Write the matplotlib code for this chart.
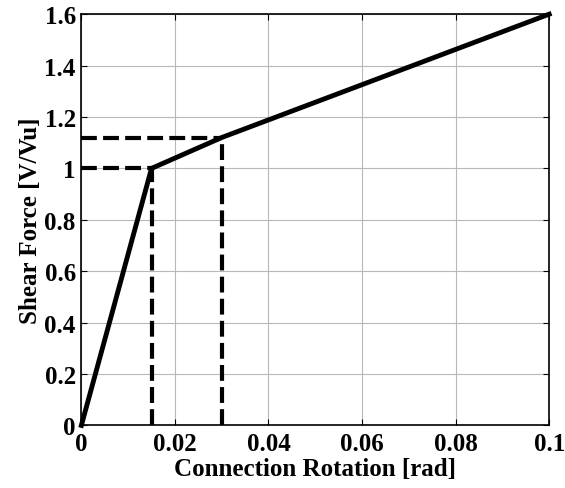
import matplotlib
matplotlib.use("Agg")
import matplotlib.pyplot as plt
import numpy as np

# backbone curve (rotation, normalised shear)
rot = [0.0, 0.015, 0.03, 0.1]
shear = [0.0, 1.0, 1.12, 1.6]

# guide points shown with dashed lines
guide_rot = [0.015, 0.03]
guide_shear = [1.0, 1.12]

x_ticks = [0, 0.02, 0.04, 0.06, 0.08, 0.1]
x_labels = ["0", "0.02", "0.04", "0.06", "0.08", "0.1"]
y_ticks = [0, 0.2, 0.4, 0.6, 0.8, 1.0, 1.2, 1.4, 1.6]
y_labels = ["0", "0.2", "0.4", "0.6", "0.8", "1", "1.2", "1.4", "1.6"]

plt.rcParams["font.family"] = ["Liberation Serif", "DejaVu Serif"]
plt.rcParams["font.weight"] = "bold"

fig = plt.figure(figsize=(5.65, 4.89), dpi=100)
ax = fig.add_axes([0.144, 0.128, 0.828, 0.841])

ax.grid(True, color="#b8b8b8", lw=0.8)
ax.set_axisbelow(True)

for gx, gy in zip(guide_rot, guide_shear):
    ax.plot([0, gx], [gy, gy], color="black", lw=3, dashes=(3.8, 1.5),
            solid_capstyle="butt", zorder=3)
    ax.plot([gx, gx], [0, gy], color="black", lw=3, dashes=(3.8, 1.5),
            solid_capstyle="butt", zorder=3)

ax.plot(rot, shear, color="black", lw=3.5, zorder=4, clip_on=False)

ax.set_xlim(0, 0.1)
ax.set_ylim(0, 1.6)
ax.set_xticks(x_ticks)
ax.set_xticklabels(x_labels)
ax.set_yticks(y_ticks)
ax.set_yticklabels(y_labels)
ax.tick_params(direction="in", length=4, width=0.8, top=True, right=True,
               labelsize=18, pad=4)
ax.tick_params(axis="x", pad=5)
for lab in ax.get_xticklabels() + ax.get_yticklabels():
    lab.set_fontweight("bold")
for sp in ax.spines.values():
    sp.set_linewidth(1.2)

ax.set_xlabel("Connection Rotation [rad]", fontsize=18, fontweight="bold",
              labelpad=1)
ax.set_ylabel("Shear Force [V/Vu]", fontsize=18, fontweight="bold",
              labelpad=2)

fig.savefig("out.png", dpi=100)
